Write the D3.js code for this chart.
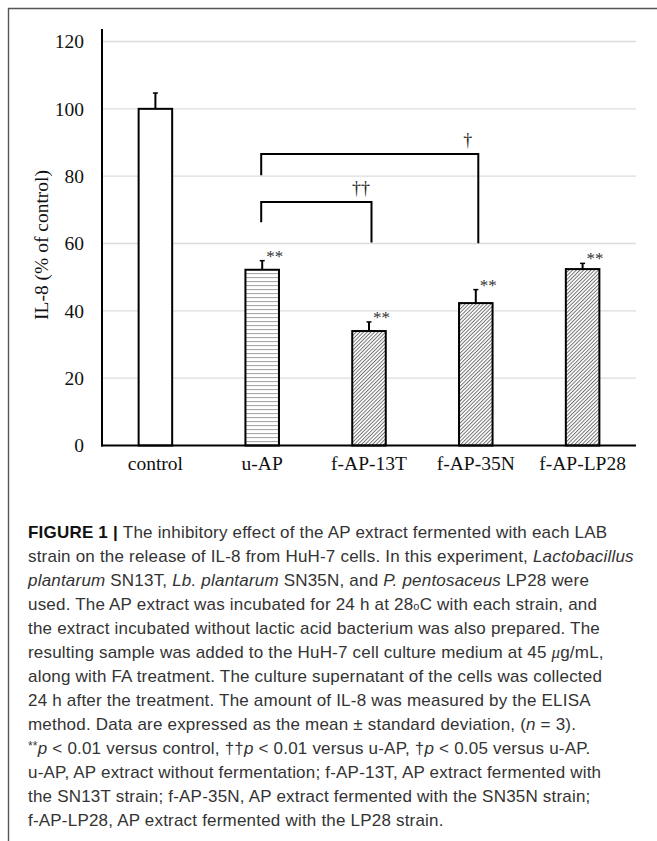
<!DOCTYPE html>
<html>
<head>
<meta charset="utf-8">
<script src="https://d3js.org/d3.v7.min.js"></script>
<style>
  html, body { margin: 0; padding: 0; background: #fff; }
  svg { display: block; }
</style>
</head>
<body>
<div id="chart"></div>
<script>
// data
var categories = ["control", "u-AP", "f-AP-13T", "f-AP-35N", "f-AP-LP28"];
var means = [100, 52.2, 34.0, 42.3, 52.4];
var sds = [4.7, 2.7, 2.7, 4.0, 1.7];
var fills = ["white", "waves", "hatch", "hatch", "hatch"];
var stars = ["", "**", "**", "**", "**"];
var yTicks = [0, 20, 40, 60, 80, 100, 120];
var yTitle = "IL-8 (% of control)";

// significance brackets vs u-AP (heights in % of control)
var brackets = [
    {from: "u-AP", to: "f-AP-13T", label: "\u2020\u2020", top: 72.3, leftEnd: 66.3, rightEnd: 60.3},
    {from: "u-AP", to: "f-AP-35N", label: "\u2020", top: 86.6, leftEnd: 80.3, rightEnd: 60.1}
];

var captionLines = [
    [["FIGURE 1 | ", "b"], ["The inhibitory effect of the AP extract fermented with each LAB"]],
    [["strain on the release of IL-8 from HuH-7 cells. In this experiment, "], ["Lactobacillus", "i"]],
    [["plantarum", "i"], [" SN13T, "], ["Lb. plantarum", "i"], [" SN35N, and "], ["P. pentosaceus", "i"], [" LP28 were"]],
    [["used. The AP extract was incubated for 24 h at 28"], ["o", "deg"], ["C with each strain, and"]],
    [["the extract incubated without lactic acid bacterium was also prepared. The"]],
    [["resulting sample was added to the HuH-7 cell culture medium at 45 "], ["\u03bc", "mu"], ["g/mL,"]],
    [["along with FA treatment. The culture supernatant of the cells was collected"]],
    [["24 h after the treatment. The amount of IL-8 was measured by the ELISA"]],
    [["method. Data are expressed as the mean \u00b1 standard deviation, ("], ["n", "i"], [" = 3)."]],
    [["**", "sup"], ["p", "i"], [" < 0.01 versus control, \u2020\u2020"], ["p", "i"], [" < 0.01 versus u-AP, \u2020"], ["p", "i"], [" < 0.05 versus u-AP."]],
    [["u-AP, AP extract without fermentation; f-AP-13T, AP extract fermented with"]],
    [["the SN13T strain; f-AP-35N, AP extract fermented with the SN35N strain;"]],
    [["f-AP-LP28, AP extract fermented with the LP28 strain."]]
];

var width = 657,
    height = 841;

var svg = d3.select("#chart")
    .append("svg")
    .attr("width", width)
    .attr("height", height);

var defs = svg.append("defs");

// horizontal wavy lines for u-AP
var waves = defs.append("pattern")
    .attr("id", "waves")
    .attr("patternUnits", "userSpaceOnUse")
    .attr("width", 4)
    .attr("height", 4);
waves.append("path")
    .attr("d", "M0,2 L1,1.2 L2,2 L3,1.2 L4,2")
    .attr("fill", "none")
    .attr("stroke", "#888")
    .attr("stroke-width", 0.8);

// fine diagonal hatch for fermented extracts
var hatch = defs.append("pattern")
    .attr("id", "hatch")
    .attr("patternUnits", "userSpaceOnUse")
    .attr("width", 2.6)
    .attr("height", 2.6)
    .attr("patternTransform", "rotate(45)");
hatch.append("line")
    .attr("x1", 0.5).attr("y1", 0)
    .attr("x2", 0.5).attr("y2", 2.6)
    .attr("stroke", "#666")
    .attr("stroke-width", 0.9);

// figure frame (top and left edge only)
svg.append("path")
    .attr("d", "M8.5," + height + "V8.5H" + width)
    .attr("fill", "none")
    .attr("stroke", "#555")
    .attr("stroke-width", 1.4);

var plotLeft = 102, plotRight = 636, baseY = 445.5;

var x = d3.scaleBand()
    .domain(categories)
    .range([plotLeft, plotRight])
    .paddingInner(0.686)
    .paddingOuter(0.343);

var y = d3.scaleLinear()
    .domain([0, 120])
    .range([baseY, 41.5]);

var serif = "'Liberation Serif', 'Times New Roman', serif";

// gridlines
svg.append("g")
    .selectAll("line")
    .data(yTicks.filter(function(d) { return d > 0; }))
    .enter().append("line")
    .attr("x1", plotLeft).attr("x2", plotRight)
    .attr("y1", function(d) { return y(d); })
    .attr("y2", function(d) { return y(d); })
    .attr("stroke", "#dcdcdc")
    .attr("stroke-width", 1.3);

// y axis
var yAxis = svg.append("g")
    .attr("transform", "translate(" + plotLeft + ",0)")
    .call(d3.axisLeft(y).tickValues(yTicks).tickSize(0).tickPadding(18));
yAxis.select(".domain").remove();
yAxis.selectAll("text")
    .attr("font-family", serif)
    .attr("font-size", 19.5)
    .attr("fill", "#111");

svg.append("line")
    .attr("x1", plotLeft).attr("x2", plotLeft)
    .attr("y1", 29).attr("y2", baseY + 1)
    .attr("stroke", "#000")
    .attr("stroke-width", 2);

svg.append("text")
    .attr("transform", "translate(48,245) rotate(-90)")
    .attr("text-anchor", "middle")
    .attr("font-family", serif)
    .attr("font-size", 19.5)
    .attr("fill", "#111")
    .text(yTitle);

// bars
var rows = categories.map(function(c, i) {
    return {cat: c, mean: means[i], sd: sds[i], fill: fills[i], star: stars[i]};
});

var bars = svg.append("g").selectAll("g")
    .data(rows)
    .enter().append("g");

bars.append("rect")
    .attr("x", function(d) { return x(d.cat); })
    .attr("y", function(d) { return y(d.mean); })
    .attr("width", x.bandwidth())
    .attr("height", function(d) { return baseY - y(d.mean); })
    .attr("fill", "#fff");

bars.append("rect")
    .attr("x", function(d) { return x(d.cat); })
    .attr("y", function(d) { return y(d.mean); })
    .attr("width", x.bandwidth())
    .attr("height", function(d) { return baseY - y(d.mean); })
    .attr("fill", function(d) { return d.fill === "white" ? "#fff" : "url(#" + d.fill + ")"; })
    .attr("stroke", "#000")
    .attr("stroke-width", 2);

// error bars (upper only)
var cx = function(d) { return x(d.cat) + x.bandwidth() / 2; };
bars.append("line")
    .attr("x1", cx).attr("x2", cx)
    .attr("y1", function(d) { return y(d.mean); })
    .attr("y2", function(d) { return y(d.mean + d.sd); })
    .attr("stroke", "#000")
    .attr("stroke-width", 2);
bars.append("line")
    .attr("x1", function(d) { return cx(d) - 2.5; })
    .attr("x2", function(d) { return cx(d) + 2.5; })
    .attr("y1", function(d) { return y(d.mean + d.sd); })
    .attr("y2", function(d) { return y(d.mean + d.sd); })
    .attr("stroke", "#000")
    .attr("stroke-width", 1.5);

bars.append("text")
    .attr("x", function(d) { return cx(d) + 4; })
    .attr("y", function(d) { return y(d.mean + d.sd) + 1; })
    .attr("font-family", serif)
    .attr("font-size", 17)
    .attr("fill", "#333")
    .text(function(d) { return d.star; });

// x axis
svg.append("line")
    .attr("x1", plotLeft - 1).attr("x2", plotRight)
    .attr("y1", baseY).attr("y2", baseY)
    .attr("stroke", "#000")
    .attr("stroke-width", 2);

svg.append("g").selectAll("text")
    .data(categories)
    .enter().append("text")
    .attr("x", function(d) { return x(d) + x.bandwidth() / 2; })
    .attr("y", baseY + 24)
    .attr("text-anchor", "middle")
    .attr("font-family", serif)
    .attr("font-size", 19.5)
    .attr("fill", "#111")
    .text(function(d) { return d; });

// brackets
var br = svg.append("g").selectAll("g")
    .data(brackets)
    .enter().append("g");

br.append("path")
    .attr("d", function(d) {
        var x1 = x(d.from) + x.bandwidth() / 2 - 1,
            x2 = x(d.to) + x.bandwidth() / 2 + 2.5;
        return "M" + x1 + "," + y(d.leftEnd) + "V" + y(d.top) + "H" + x2 + "V" + y(d.rightEnd);
    })
    .attr("fill", "none")
    .attr("stroke", "#000")
    .attr("stroke-width", 2);

br.append("text")
    .attr("x", function(d) { return x(d.to) + x.bandwidth() / 2 - 8; })
    .attr("y", function(d) { return y(d.top) - 8; })
    .attr("text-anchor", "middle")
    .attr("font-family", serif)
    .attr("font-size", 18)
    .attr("fill", "#222")
    .text(function(d) { return d.label; });

// caption
var sans = "'Liberation Sans', Arial, sans-serif";
var cap = svg.append("g")
    .attr("font-family", sans)
    .attr("font-size", 17)
    .attr("letter-spacing", 0.2)
    .attr("fill", "#333");

cap.selectAll("text")
    .data(captionLines)
    .enter().append("text")
    .attr("x", 28)
    .attr("y", function(d, i) { return 538 + i * 24; })
    .each(function(line) {
        var t = d3.select(this);
        line.forEach(function(seg) {
            var s = t.append("tspan").text(seg[0]);
            var st = seg[1];
            if (st === "b") s.attr("font-weight", "bold").attr("fill", "#111");
            if (st === "i") s.attr("font-style", "italic");
            if (st === "sup") s.attr("font-size", 12).attr("dy", -4);
            if (st === "deg") s.attr("font-size", 11);
            if (st === "mu") s.attr("font-style", "italic").attr("font-family", serif);
        });
        // undo the superscript shift after "**"
        t.selectAll("tspan").each(function(d, i, nodes) {
            if (i > 0 && d3.select(nodes[i - 1]).attr("dy") === "-4") d3.select(this).attr("dy", 4);
        });
    });
</script>
</body>
</html>
